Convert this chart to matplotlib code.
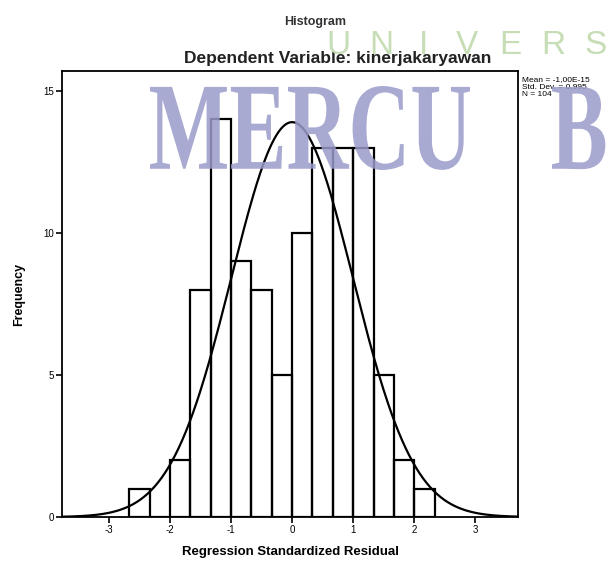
import numpy as np
import matplotlib
matplotlib.use('Agg')
import matplotlib.pyplot as plt
from matplotlib.textpath import TextPath
from matplotlib.patches import PathPatch
from matplotlib.font_manager import FontProperties
from matplotlib.transforms import Affine2D

# histogram of regression standardized residuals (bin width 1/3)
bin_left = [-8/3, -7/3, -2, -5/3, -4/3, -1, -2/3, -1/3, 0, 1/3, 2/3, 1, 4/3, 5/3, 2]
counts = [1, 0, 2, 8, 14, 9, 8, 5, 10, 13, 13, 13, 5, 2, 1]
bin_width = 1/3
mean = -1.00e-15
std_dev = 0.995
n_obs = 104
x_ticks = [-3, -2, -1, 0, 1, 2, 3]
y_ticks = [0, 5, 10, 15]

W, H = 616, 569
plt.rcParams['font.family'] = ['Liberation Sans', 'DejaVu Sans']
plt.rcParams['axes.unicode_minus'] = False

fig = plt.figure(figsize=(W / 100, H / 100), dpi=100)
ax = fig.add_axes([62 / W, 1 - 517 / H, (518 - 62) / W, (517 - 71) / H])
ax.set_facecolor('none')

ax.bar(bin_left, counts, width=bin_width, align='edge', fill=False,
       edgecolor='black', linewidth=1.6)

xs = np.linspace(-3.8, 3.8, 400)
pdf = n_obs * bin_width / (std_dev * np.sqrt(2 * np.pi)) * np.exp(-0.5 * ((xs - mean) / std_dev) ** 2)
ax.plot(xs, pdf, color='black', linewidth=1.6)

ax.set_xlim(-3.77, 3.70)
ax.set_ylim(0, 15.7)
ax.set_xticks(x_ticks)
ax.set_yticks(y_ticks)
ax.tick_params(direction='out', length=4, width=1.2, labelsize=7, pad=2)
for s in ax.spines.values():
    s.set_linewidth(1.3)

ax.set_xlabel('Regression Standardized Residual', fontsize=9.5, fontweight='bold', labelpad=8)
ax.set_ylabel('Frequency', fontsize=9, fontweight='bold', labelpad=13)

fig.text(0.512, 1 - 22 / H, 'Histogram', ha='center', va='center', fontsize=9, fontweight='bold', color='#333333')
fig.text(0.549, 1 - 58 / H, 'Dependent Variable: kinerjakaryawan', ha='center', va='center',
         fontsize=12.5, fontweight='bold', color='#222222')

fig.text(522 / W, 1 - 87 / H, 'Mean = -1,00E-15\nStd. Dev. = 0,995\nN = 104',
         ha='left', va='center', fontsize=6, linespacing=1.0)

# watermark
for i, ch in enumerate('UNIVERS'):
    fig.text((338 + 43 * i) / W, 1 - 45 / H, ch, ha='center', va='center',
             fontsize=24, color='#c6ddb6', zorder=5)

prop = FontProperties(family='Liberation Serif', weight='bold')
tp = TextPath((0, 0), 'MERCU', size=1, prop=prop)
bb = tp.get_extents()
sx = (470 - 150) / bb.width
sy = (170 - 86) / bb.height
tr = Affine2D().translate(-bb.x0, -bb.y0).scale(sx, sy).translate(150, H - 170)
fig.add_artist(PathPatch(tp, transform=tr, facecolor='#9a9bcb', edgecolor='none', alpha=0.85, zorder=5))
tp2 = TextPath((0, 0), 'B', size=1, prop=prop)
bb2 = tp2.get_extents()
tr2 = Affine2D().translate(-bb2.x0, -bb.y0).scale(sx, sy).translate(552, H - 170)
fig.add_artist(PathPatch(tp2, transform=tr2, facecolor='#9a9bcb', edgecolor='none', alpha=0.85, zorder=5))

fig.savefig('out.png', dpi=100)
